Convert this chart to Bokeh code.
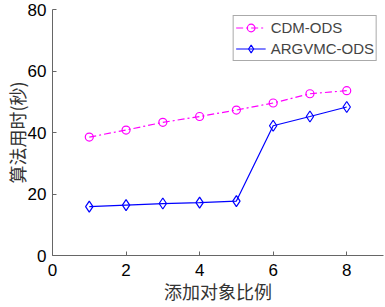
from bokeh.plotting import figure
from bokeh.models import Range1d, FixedTicker, Legend, LegendItem
from bokeh.embed import file_html
from bokeh.resources import INLINE

x = [1, 2, 3, 4, 5, 6, 7, 8]
cdm = [38.5, 40.8, 43.3, 45.2, 47.3, 49.6, 52.6, 53.6]
argvmc = [15.9, 16.4, 16.9, 17.2, 17.7, 42.2, 45.2, 48.3]
xticks = [0, 2, 4, 6, 8]
yticks = [0, 20, 40, 60, 80]

p = figure(width=385, height=307, output_backend="svg", toolbar_location=None,
           x_range=Range1d(0, 9), y_range=Range1d(0, 80),
           min_border_left=50, min_border_right=2, min_border_top=9, min_border_bottom=52)
p.outline_line_color = None
p.xgrid.grid_line_color = None
p.ygrid.grid_line_color = None

l1 = p.line(x, cdm, line_color="#FF00FF", line_width=1.2, line_dash="7 3 2 3")
m1 = p.scatter(x, cdm, marker="circle", size=8, fill_color=None, line_color="#FF00FF", line_width=1.2)
l2 = p.line(x, argvmc, line_color="#0000FF", line_width=1.2)
m2 = p.scatter(x, argvmc, marker="diamond", size=11, fill_color=None, line_color="#0000FF", line_width=1.2)

for ax in (p.xaxis[0], p.yaxis[0]):
    ax.axis_line_color = "#666666"
    ax.major_tick_line_color = "#666666"
    ax.major_tick_in = 4
    ax.major_tick_out = 0
    ax.minor_tick_line_color = None
    ax.major_label_text_font = "Liberation Sans"
    ax.major_label_text_font_size = "17px"
    ax.major_label_text_color = "black"
    ax.axis_label_text_font = "Noto Sans CJK SC"
    ax.axis_label_text_font_size = "18px"
    ax.axis_label_text_font_style = "normal"
    ax.axis_label_text_color = "#333333"

p.xaxis[0].ticker = FixedTicker(ticks=xticks)
p.yaxis[0].ticker = FixedTicker(ticks=yticks)
p.xaxis[0].axis_label = "添加对象比例"
p.yaxis[0].axis_label = "算法用时(秒)"
p.xaxis[0].major_label_standoff = 8
p.yaxis[0].major_label_standoff = 6
p.xaxis[0].axis_label_standoff = -1
p.yaxis[0].axis_label_standoff = -5

legend = Legend(items=[LegendItem(label="CDM-ODS", renderers=[l1, m1]),
                       LegendItem(label="ARGVMC-ODS", renderers=[l2, m2])],
                location="top_right")
legend.label_text_font = "Liberation Sans"
legend.label_text_font_size = "15px"
legend.border_line_color = "#555555"
legend.border_line_width = 1
legend.glyph_width = 30
legend.glyph_height = 19
legend.label_height = 19
legend.spacing = 2
legend.padding = 2
legend.margin = 6
legend.label_standoff = 5
legend.background_fill_alpha = 1
p.add_layout(legend)

open("out.html", "w").write(file_html(p, INLINE))
